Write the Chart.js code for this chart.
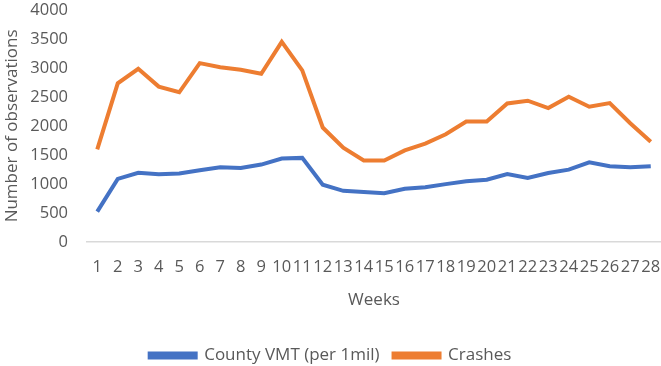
<!DOCTYPE html>
<html>
<head>
<meta charset="utf-8">
<script src="https://cdn.jsdelivr.net/npm/chart.js@4"></script>
<style>
  html, body { margin: 0; padding: 0; background: #fff; }
  #wrap { width: 661px; height: 366px; }
</style>
</head>
<body>
<div id="wrap"><canvas id="vmtChart"></canvas></div>
<script>
const weeks = ['1', '2', '3', '4', '5', '6', '7', '8', '9', '10', '11', '12', '13', '14',
    '15', '16', '17', '18', '19', '20', '21', '22', '23', '24', '25', '26', '27', '28'];

const countyVmt = [520, 1085, 1190, 1165, 1178, 1235, 1285, 1275, 1333, 1438, 1448, 985, 880, 860,
    840, 915, 942, 995, 1043, 1072, 1170, 1100, 1188, 1245, 1372, 1303, 1287, 1305];

const crashes = [1595, 2735, 2985, 2678, 2580, 3083, 3013, 2968, 2900, 3450, 2957, 1972, 1623, 1405,
    1403, 1577, 1693, 1855, 2075, 2075, 2388, 2435, 2307, 2504, 2330, 2394, 2046, 1728];

const yTicks = [0, 500, 1000, 1500, 2000, 2500, 3000, 3500, 4000];

Chart.defaults.font.family = '"Open Sans", sans-serif';
Chart.defaults.font.size = 16.5;
Chart.defaults.color = '#595959';

const ctx = document.getElementById('vmtChart').getContext('2d');

const chart = new Chart(ctx, {
    type: 'line',
    data: {
        labels: weeks,
        datasets: [{
            label: 'County VMT (per 1mil)',
            data: countyVmt,
            borderColor: '#4472C4',
            backgroundColor: '#4472C4',
            borderWidth: 4,
            pointRadius: 0,
            tension: 0
        }, {
            label: 'Crashes',
            data: crashes,
            borderColor: '#ED7D31',
            backgroundColor: '#ED7D31',
            borderWidth: 4,
            pointRadius: 0,
            tension: 0
        }]
    },
    options: {
        responsive: true,
        maintainAspectRatio: false,
        animation: false,
        layout: {
            padding: { top: 0, right: 0, bottom: -8, left: 0 }
        },
        plugins: {
            tooltip: { enabled: false },
            legend: {
                position: 'bottom',
                labels: {
                    boxWidth: 46,
                    boxHeight: 4,
                    padding: 14,
                    font: { size: 17 }
                }
            }
        },
        scales: {
            x: {
                offset: true,
                afterFit: (axis) => {
                    axis.paddingLeft = 0;
                    axis.paddingRight = 0;
                },
                grid: { display: false, drawTicks: false },
                border: { display: true, color: '#d9d9d9', width: 1.5 },
                ticks: {
                    autoSkip: false,
                    maxRotation: 0,
                    padding: 16
                },
                title: {
                    display: true,
                    text: 'Weeks',
                    font: { size: 17 },
                    padding: { top: -4, bottom: 23 }
                }
            },
            y: {
                min: 0,
                max: 4000,
                afterBuildTicks: (axis) => {
                    axis.ticks = yTicks.map(v => ({ value: v }));
                },
                afterFit: (axis) => {
                    axis.width = 87;
                    axis.paddingTop = 10;
                },
                grid: { display: false, drawTicks: false },
                border: { display: false },
                ticks: {
                    padding: 19,
                    callback: (v) => String(v)
                },
                title: {
                    display: true,
                    text: 'Number of observations',
                    font: { size: 17 },
                    padding: { top: 2, bottom: 0 }
                }
            }
        }
    }
});
</script>
</body>
</html>
